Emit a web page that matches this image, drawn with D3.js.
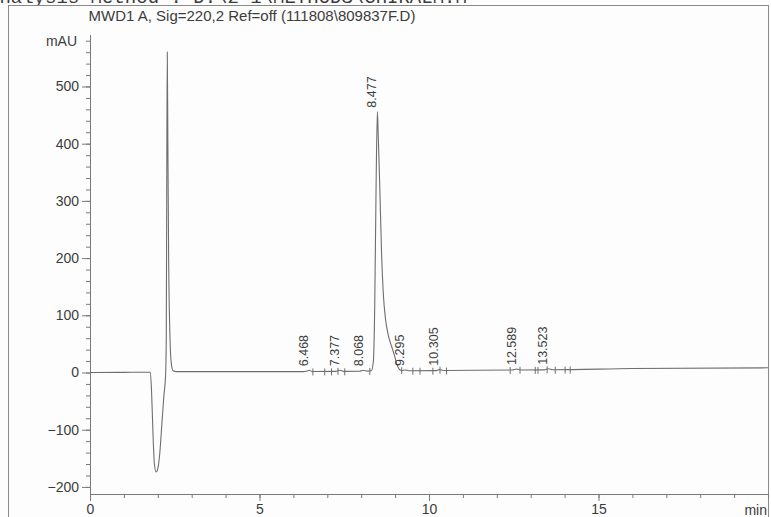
<!DOCTYPE html>
<html>
<head>
<meta charset="utf-8">
<script src="https://cdn.jsdelivr.net/npm/d3@7"></script>
<style>
  html, body { margin: 0; padding: 0; background: #fdfdfd; }
  svg { display: block; }
  text { font-family: "Liberation Sans", Arial, sans-serif; fill: #3c3c3c; }
</style>
</head>
<body>
<div id="chart"></div>
<script>
// Signal trace (time in min, response in mAU)
var traceTime = [0, 1.0, 1.78, 1.82, 1.86, 1.90, 1.95, 2.00, 2.06, 2.12, 2.18, 2.23,
  2.25, 2.265, 2.28, 2.295, 2.32, 2.36, 2.40, 2.45, 2.55, 4.0, 6.3, 6.40, 6.468, 6.55,
  7.25, 7.377, 7.48, 7.95, 8.068, 8.18, 8.30, 8.36, 8.40, 8.44, 8.477, 8.50, 8.55,
  8.60, 8.65, 8.72, 8.80, 8.90, 8.98, 9.05, 9.12, 9.20, 9.295, 9.40, 10.20, 10.305,
  10.42, 12.45, 12.589, 12.70, 13.40, 13.523, 13.65, 16.0, 20.0];
var traceMAU = [0, 0.3, 0.5, -40, -110, -160, -174, -168, -140, -90, -40, -5,
  60, 350, 560, 420, 200, 60, 15, 3, 1.5, 1.5, 1.5, 2.5, 4, 1.8,
  2, 4, 2, 2.2, 4, 2.4, 3, 20, 120, 330, 456, 420, 320,
  210, 140, 92, 65, 45, 30, 15, 6, 3.5, 4.5, 3, 3.2, 5,
  3.4, 4.3, 6, 4.4, 4.6, 6.5, 4.8, 7, 8.2];

// Labelled peaks (retention times) and their apex heights
var peakTimes = [6.468, 7.377, 8.068, 8.477, 9.295, 10.305, 12.589, 13.523];
var peakMAU   = [4, 4, 4, 456, 4.5, 5, 6, 6.5];

// Integration event marks along the baseline
var markTimes = [6.56, 6.91, 7.11, 7.30, 7.50, 8.24, 9.18, 9.51, 9.72, 10.10,
  10.31, 10.50, 12.38, 12.67, 13.12, 13.20, 13.47, 13.71, 14.00, 14.15];

var yMajor = [-200, -100, 0, 100, 200, 300, 400, 500];
var xMajor = [0, 5, 10, 15];

var title = "MWD1 A, Sig=220,2 Ref=off (111808\\809837F.D)";
var headerLine = "Analysis Method : D:\\2-1\\METHODS\\CHIRALM.M";

var width = 771, height = 517;
var plotL = 90, plotR = 768, plotT = 35, plotB = 494;

var svg = d3.select("#chart").append("svg")
  .attr("width", width).attr("height", height);

var x = d3.scaleLinear().domain([0, 20]).range([plotL, plotR]);
var y = d3.scaleLinear().domain([-212.4, 590]).range([plotB, plotT]);

// report header line, cut by the top of the page as in the scan
svg.append("text")
  .attr("x", -12).attr("y", 2.5)
  .style("font-family", "'Liberation Mono', monospace")
  .style("font-size", "19px")
  .text(headerLine);

// outer frame
svg.append("rect")
  .attr("x", 8.5).attr("y", 5.5)
  .attr("width", plotR - 8).attr("height", 540)
  .attr("fill", "#fdfdfd").attr("stroke", "#8a8a8a").attr("stroke-width", 1);

svg.append("text")
  .attr("x", 252).attr("y", 21)
  .attr("text-anchor", "middle")
  .style("font-size", "15px")
  .text(title);

// y axis
var yMinor = d3.range(-200, 581, 20);
svg.append("g").attr("transform", "translate(" + plotL + ",0)")
  .call(d3.axisLeft(y).tickValues(yMinor).tickSize(4).tickFormat(""))
  .call(function(g) { g.select(".domain").remove(); });
var ya = svg.append("g").attr("transform", "translate(" + plotL + ",0)")
  .call(d3.axisLeft(y).tickValues(yMajor).tickSize(8).tickPadding(3).tickSizeOuter(0));
ya.select(".domain").attr("d", "M0.5," + plotT + "V" + plotB);
ya.selectAll("text").style("font-size", "14px").attr("fill", "#3c3c3c");

svg.append("text")
  .attr("x", 77).attr("y", y(580) + 5)
  .attr("text-anchor", "end")
  .style("font-size", "14px")
  .text("mAU");

// x axis
svg.append("g").attr("transform", "translate(0," + plotB + ")")
  .call(d3.axisBottom(x).tickValues(d3.range(0, 21, 1)).tickSize(4).tickFormat(""))
  .call(function(g) { g.select(".domain").remove(); });
var xa = svg.append("g").attr("transform", "translate(0," + plotB + ")")
  .call(d3.axisBottom(x).tickValues(xMajor).tickSize(7).tickPadding(3).tickSizeOuter(0));
xa.select(".domain").attr("d", "M" + plotL + ",0.5H" + plotR);
xa.selectAll("text").style("font-size", "14px").attr("fill", "#3c3c3c");

svg.append("text")
  .attr("x", 767).attr("y", 515)
  .attr("text-anchor", "end")
  .style("font-size", "14px")
  .text("min");

svg.selectAll(".tick line, .domain").attr("stroke", "#7a7a7a");

// signal
var trace = traceTime.map(function(t, i) { return [t, traceMAU[i]]; });
var line = d3.line()
  .x(function(d) { return x(d[0]); })
  .y(function(d) { return y(d[1]); })
  .curve(d3.curveMonotoneX);

svg.append("path")
  .datum(trace)
  .attr("d", line)
  .attr("fill", "none")
  .attr("stroke", "#6e6e6e")
  .attr("stroke-width", 1.1);

// baseline event marks
var baseAt = d3.scaleLinear().domain(traceTime).range(traceMAU);
svg.selectAll("line.mark")
  .data(markTimes)
  .enter().append("line")
  .attr("class", "mark")
  .attr("x1", function(d) { return x(d) + 0.5; })
  .attr("x2", function(d) { return x(d) + 0.5; })
  .attr("y1", function(d) { return y(baseAt(d)) - 3; })
  .attr("y2", function(d) { return y(baseAt(d)) + 4; })
  .attr("stroke", "#6e6e6e");

// retention time labels
svg.selectAll("text.rt")
  .data(peakTimes)
  .enter().append("text")
  .attr("class", "rt")
  .attr("transform", function(d, i) {
    return "translate(" + (x(d) - 1) + "," + (y(peakMAU[i]) - 4) + ") rotate(-90)";
  })
  .style("font-size", "12.5px")
  .text(function(d) { return d3.format(".3f")(d); });
</script>
</body>
</html>
